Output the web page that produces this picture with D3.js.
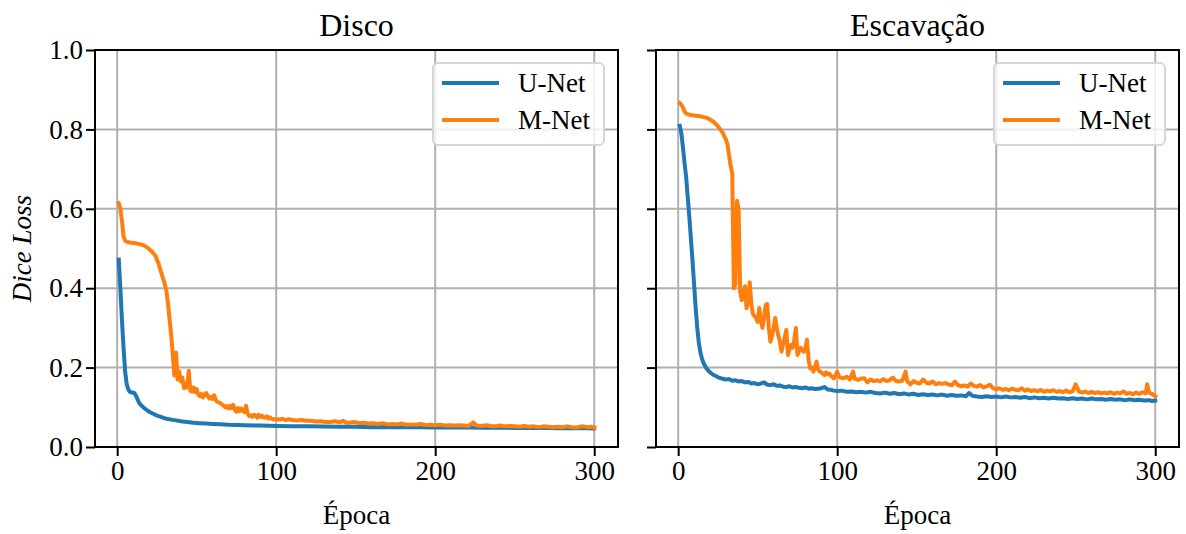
<!DOCTYPE html>
<html>
<head>
<meta charset="utf-8">
<script src="https://cdn.jsdelivr.net/npm/d3@7"></script>
<style>
  body { margin: 0; background: #fff; }
  text { font-family: "Liberation Serif", serif; fill: #000; }
</style>
</head>
<body>
<svg width="1186" height="534"></svg>
<script>
// [epoch, dice loss]
const discoUNet = [[1,0.472],[2,0.40],[3,0.32],[4,0.25],[5,0.19],[6,0.158],[7,0.145],[8,0.139],[9,0.137],[10,0.137],[11,0.135],[12,0.128],[13,0.118],[14,0.110],[15,0.105],[17,0.098],[19,0.092],[21,0.087],[23,0.083],[25,0.079],[28,0.075],[31,0.071],[34,0.069],[37,0.067],[40,0.065],[44,0.063],[48,0.061],[52,0.060],[56,0.059],[60,0.058],[65,0.057],[70,0.056],[75,0.0555],[80,0.055],[90,0.054],[100,0.053],[110,0.052],[120,0.052],[130,0.0515],[140,0.051],[150,0.051],[160,0.050],[170,0.0505],[180,0.050],[190,0.0495],[200,0.049],[210,0.0495],[220,0.049],[230,0.0485],[240,0.049],[250,0.048],[260,0.0485],[270,0.048],[280,0.0475],[290,0.048],[300,0.047]];

const discoMNet = [[1,0.614],[2,0.60],[3,0.57],[4,0.53],[5,0.52],[6,0.517],[8,0.515],[10,0.514],[12,0.513],[14,0.511],[16,0.509],[18,0.505],[20,0.499],[22,0.492],[24,0.482],[26,0.462],[28,0.435],[30,0.410],[31,0.392],[32,0.36],[33,0.32],[34,0.28],[35,0.23],[36,0.18],[37,0.238],[38,0.17],[39,0.19],[40,0.165],[41,0.175],[42,0.148],[43,0.16],[44,0.15],[45,0.192],[46,0.142],[47,0.14],[48,0.15],[49,0.138],[50,0.146],[51,0.132],[52,0.128],[53,0.134],[54,0.125],[55,0.132],[56,0.136],[57,0.128],[58,0.122],[59,0.126],[60,0.121],[61,0.13],[62,0.118],[63,0.114],[64,0.112],[65,0.11],[66,0.107],[67,0.104],[68,0.10],[69,0.103],[70,0.097],[71,0.104],[72,0.098],[73,0.106],[74,0.093],[75,0.089],[76,0.098],[77,0.09],[78,0.097],[79,0.092],[80,0.088],[81,0.104],[82,0.085],[83,0.078],[84,0.08],[85,0.076],[86,0.081],[87,0.079],[88,0.074],[89,0.081],[90,0.076],[91,0.079],[92,0.075],[93,0.074],[94,0.077],[95,0.072],[96,0.075],[97,0.071],[98,0.07],[100,0.07],[102,0.069],[104,0.071],[106,0.068],[108,0.07],[110,0.068],[113,0.067],[116,0.068],[119,0.066],[122,0.066],[125,0.064],[128,0.065],[131,0.063],[134,0.063],[137,0.065],[140,0.062],[142,0.066],[144,0.061],[146,0.061],[149,0.063],[152,0.06],[155,0.061],[158,0.059],[161,0.06],[164,0.058],[167,0.06],[170,0.057],[173,0.058],[176,0.057],[179,0.059],[182,0.056],[185,0.057],[188,0.056],[191,0.058],[194,0.055],[197,0.056],[200,0.055],[203,0.056],[206,0.054],[209,0.055],[212,0.054],[215,0.055],[218,0.054],[221,0.053],[224,0.062],[226,0.054],[229,0.053],[232,0.055],[235,0.053],[238,0.052],[241,0.054],[244,0.052],[247,0.053],[250,0.052],[253,0.051],[256,0.053],[259,0.051],[262,0.052],[265,0.05],[268,0.052],[271,0.051],[274,0.05],[277,0.051],[280,0.05],[283,0.052],[286,0.05],[289,0.049],[291,0.051],[293,0.052],[296,0.05],[298,0.051],[300,0.049]];

const escavUNet = [[1,0.809],[2,0.79],[3,0.755],[4,0.715],[5,0.68],[6,0.63],[7,0.58],[8,0.525],[9,0.47],[10,0.41],[11,0.35],[12,0.30],[13,0.262],[14,0.238],[15,0.222],[16,0.211],[17,0.203],[18,0.197],[19,0.192],[20,0.188],[22,0.182],[24,0.178],[26,0.174],[28,0.172],[30,0.170],[32,0.171],[34,0.167],[36,0.168],[38,0.165],[40,0.166],[42,0.163],[44,0.164],[46,0.160],[48,0.161],[50,0.158],[52,0.160],[54,0.163],[56,0.157],[58,0.156],[60,0.158],[62,0.154],[64,0.155],[66,0.152],[68,0.151],[70,0.153],[72,0.150],[74,0.151],[76,0.149],[78,0.148],[80,0.150],[82,0.147],[84,0.148],[86,0.146],[88,0.147],[90,0.148],[92,0.151],[94,0.145],[96,0.144],[98,0.142],[100,0.141],[103,0.142],[106,0.139],[109,0.140],[112,0.138],[115,0.139],[118,0.137],[121,0.139],[124,0.136],[127,0.135],[130,0.137],[133,0.134],[136,0.136],[139,0.133],[142,0.135],[145,0.132],[148,0.134],[151,0.131],[154,0.133],[157,0.131],[160,0.132],[163,0.130],[166,0.132],[169,0.129],[172,0.131],[175,0.129],[178,0.130],[181,0.128],[183,0.136],[185,0.129],[188,0.127],[191,0.126],[194,0.128],[197,0.126],[200,0.127],[203,0.125],[206,0.127],[209,0.125],[212,0.126],[215,0.124],[218,0.126],[221,0.123],[224,0.125],[227,0.123],[230,0.124],[233,0.122],[236,0.124],[239,0.122],[242,0.123],[245,0.121],[248,0.123],[251,0.121],[254,0.122],[257,0.120],[260,0.122],[263,0.120],[266,0.121],[269,0.119],[272,0.121],[275,0.119],[278,0.120],[281,0.118],[284,0.120],[287,0.118],[290,0.119],[293,0.117],[296,0.118],[298,0.116],[300,0.117]];

const escavMNet = [[1,0.866],[2,0.862],[3,0.855],[4,0.845],[5,0.840],[6,0.838],[8,0.836],[10,0.835],[12,0.834],[14,0.833],[16,0.831],[18,0.829],[20,0.825],[22,0.820],[24,0.812],[26,0.803],[28,0.792],[29,0.783],[30,0.775],[31,0.762],[32,0.735],[33,0.708],[34,0.690],[35,0.40],[36,0.41],[37,0.62],[38,0.60],[39,0.39],[40,0.37],[41,0.385],[42,0.405],[43,0.35],[44,0.37],[45,0.415],[46,0.36],[47,0.335],[48,0.33],[49,0.325],[50,0.315],[51,0.35],[52,0.32],[53,0.30],[54,0.325],[55,0.358],[56,0.36],[57,0.30],[58,0.265],[59,0.28],[60,0.30],[61,0.325],[62,0.30],[63,0.28],[64,0.265],[65,0.24],[66,0.26],[67,0.275],[68,0.295],[69,0.232],[70,0.245],[71,0.257],[72,0.25],[73,0.27],[74,0.30],[75,0.232],[76,0.24],[77,0.25],[78,0.245],[79,0.24],[80,0.25],[81,0.27],[82,0.22],[83,0.198],[84,0.20],[85,0.19],[86,0.20],[87,0.215],[88,0.195],[89,0.19],[90,0.188],[91,0.185],[92,0.181],[93,0.188],[94,0.183],[95,0.185],[96,0.18],[97,0.176],[98,0.173],[99,0.18],[100,0.19],[101,0.178],[102,0.175],[104,0.173],[106,0.177],[108,0.17],[110,0.19],[111,0.172],[113,0.169],[115,0.172],[117,0.173],[119,0.163],[121,0.17],[123,0.166],[125,0.168],[127,0.165],[129,0.171],[131,0.166],[133,0.168],[135,0.175],[137,0.166],[139,0.165],[141,0.167],[143,0.190],[144,0.166],[146,0.158],[148,0.166],[150,0.162],[152,0.160],[154,0.170],[156,0.162],[158,0.160],[160,0.165],[162,0.158],[164,0.161],[166,0.159],[168,0.161],[170,0.158],[172,0.155],[174,0.165],[176,0.156],[178,0.153],[180,0.155],[182,0.152],[184,0.160],[186,0.154],[188,0.152],[190,0.156],[192,0.150],[194,0.153],[196,0.157],[198,0.148],[200,0.145],[202,0.148],[204,0.144],[206,0.146],[208,0.143],[210,0.147],[212,0.144],[214,0.143],[216,0.148],[218,0.142],[220,0.145],[222,0.141],[224,0.143],[226,0.14],[228,0.144],[230,0.139],[232,0.142],[234,0.14],[236,0.143],[238,0.139],[240,0.141],[242,0.138],[244,0.142],[246,0.138],[248,0.14],[250,0.158],[252,0.14],[254,0.137],[256,0.14],[258,0.136],[260,0.139],[262,0.136],[264,0.138],[266,0.135],[268,0.137],[270,0.135],[272,0.138],[274,0.134],[276,0.137],[278,0.135],[280,0.14],[282,0.134],[284,0.136],[286,0.133],[288,0.137],[290,0.134],[292,0.138],[294,0.135],[295,0.158],[296,0.137],[298,0.134],[300,0.128]];

const seriesNames = ["U-Net", "M-Net"];
const seriesColors = ["#1f77b4", "#ff7f0e"];
const panelTitles = ["Disco", "Escavação"];
const xTicks = [0, 100, 200, 300];
const yTicks = [0.0, 0.2, 0.4, 0.6, 0.8, 1.0];

const svg = d3.select("svg");

const plotTop = 50;
const plotBottom = 447;
const fontSize = 27;

const panels = [
    {left: 95, right: 618, data: [discoUNet, discoMNet], showY: true},
    {left: 656, right: 1179, data: [escavUNet, escavMNet], showY: false}
];

const y = d3.scaleLinear().domain([0, 1]).range([plotBottom, plotTop]);

panels.forEach((p, pi) => {
    const x = d3.scaleLinear().domain([-13.95, 314.95]).range([p.left, p.right]);
    const g = svg.append('g');

    // grid
    g.selectAll('.vgrid').data(xTicks).enter().append('line')
        .attr('x1', d => x(d)).attr('x2', d => x(d))
        .attr('y1', plotTop).attr('y2', plotBottom)
        .attr('stroke', '#b0b0b0').attr('stroke-width', 2);
    g.selectAll('.hgrid').data(yTicks).enter().append('line')
        .attr('x1', p.left).attr('x2', p.right)
        .attr('y1', d => y(d)).attr('y2', d => y(d))
        .attr('stroke', '#b0b0b0').attr('stroke-width', 2);

    // lines
    const line = d3.line().x(d => x(d[0])).y(d => y(d[1]));
    p.data.forEach((s, i) => {
        g.append('path')
            .attr('d', line(s))
            .attr('fill', 'none')
            .attr('stroke', seriesColors[i])
            .attr('stroke-width', 4)
            .attr('stroke-linejoin', 'round')
            .attr('stroke-linecap', 'square');
    });

    // axes
    const xAxis = d3.axisBottom(x).tickValues(xTicks).tickSize(9).tickPadding(5).tickFormat(d3.format('d'));
    const yAxis = d3.axisLeft(y).tickValues(yTicks).tickSize(9).tickPadding(3)
        .tickFormat(p.showY ? d3.format('.1f') : '');

    const xg = g.append('g').attr('transform', 'translate(0,' + plotBottom + ')').call(xAxis);
    const yg = g.append('g').attr('transform', 'translate(' + p.left + ',0)').call(yAxis);
    [xg, yg].forEach(a => {
        a.select('.domain').remove();
        a.selectAll('.tick line').attr('stroke', '#000').attr('stroke-width', 2);
        a.selectAll('text').attr('font-size', fontSize).attr('font-family', '"Liberation Serif", serif');
    });

    // spines
    g.append('rect')
        .attr('x', p.left).attr('y', plotTop)
        .attr('width', p.right - p.left).attr('height', plotBottom - plotTop)
        .attr('fill', 'none').attr('stroke', '#000').attr('stroke-width', 2);

    // title and x label
    const cx = (p.left + p.right) / 2;
    g.append('text').attr('x', cx).attr('y', 36)
        .attr('text-anchor', 'middle').attr('font-size', 32)
        .text(panelTitles[pi]);
    g.append('text').attr('x', cx).attr('y', 524)
        .attr('text-anchor', 'middle').attr('font-size', fontSize)
        .text('Época');

    // legend
    const legW = 171, legH = 82;
    const lg = g.append('g').attr('transform', 'translate(' + (p.right - 14 - legW) + ',' + 63 + ')');
    lg.append('rect')
        .attr('width', legW).attr('height', legH).attr('rx', 5)
        .attr('fill', 'white').attr('fill-opacity', 0.8)
        .attr('stroke', '#d6d6d6').attr('stroke-width', 2);
    seriesNames.forEach((name, i) => {
        const ly = 20 + i * 37;
        lg.append('line')
            .attr('x1', 9).attr('x2', 66).attr('y1', ly).attr('y2', ly)
            .attr('stroke', seriesColors[i]).attr('stroke-width', 4);
        lg.append('text')
            .attr('x', 85).attr('y', ly).attr('dy', '0.33em')
            .attr('font-size', fontSize)
            .text(name);
    });
});

// y label
svg.append('text')
    .attr('transform', 'translate(31,' + ((plotTop + plotBottom) / 2) + ') rotate(-90)')
    .attr('text-anchor', 'middle')
    .attr('font-size', fontSize)
    .attr('font-style', 'italic')
    .text('Dice Loss');
</script>
</body>
</html>
